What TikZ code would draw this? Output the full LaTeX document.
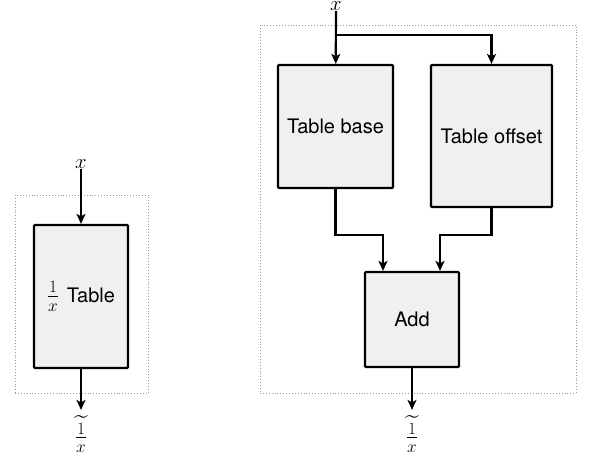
\documentclass[tikz,border=0pt]{standalone}
\usepackage{amsmath}
\usepackage{fontspec}
\setsansfont{TeX Gyre Heros}
\usetikzlibrary{arrows.meta}
\begin{document}
\begin{tikzpicture}[x=1pt,y=-1pt,
  font=\fontsize{20}{24}\selectfont\sffamily,
  blk/.style={draw, line width=2.2pt, fill=gray!12, rounded corners=1pt, inner sep=0pt},
  arr/.style={line width=2.2pt, -{Stealth[length=10pt,width=9pt,inset=2.5pt]}},
  grp/.style={draw=gray!80, dotted, line width=0.9pt, inner sep=0pt},
  lbl/.style={inner sep=0.5pt, font=\fontsize{22}{26}\selectfont},
  flbl/.style={inner sep=0.5pt, font=\fontsize{25}{28}\selectfont}]
\useasboundingbox (0,0) rectangle (589,455);
% left diagram
\node[grp, minimum width=133pt, minimum height=198pt] (g1) at (81.5,294) {};
\node[blk, minimum width=94pt, minimum height=143pt] (tab) at (81,296.5)
  {{\fontsize{26}{30}\selectfont$\frac{1}{x}$}\hspace{8pt}Table};
\node[lbl] (xin1) at (81,164) {$x$};
\node[flbl] (out1) at (81,434) {$\widetilde{\frac{1}{x}}$};
\draw[arr] (xin1) -- (tab);
\draw[arr, shorten >=5pt] (tab) -- (out1);
% right diagram
\node[grp, minimum width=316pt, minimum height=368pt] (g2) at (418,209) {};
\node[blk, minimum width=115pt, minimum height=123pt] (base) at (335.5,126.5) {Table base};
\node[blk, minimum width=121pt, minimum height=142pt] (off) at (491.5,136) {Table offset};
\node[blk, minimum width=94pt, minimum height=95pt] (add) at (412,319.5) {Add};
\node[lbl] (xin2) at (336,6) {$x$};
\node[flbl] (out2) at (412,434) {$\widetilde{\frac{1}{x}}$};
\coordinate (br) at (336,35);
\draw[arr] (xin2) -- (base);
\draw[arr] (br) -| (off.north);
\draw[arr] (base.south) -- ++(0,46) -| ([xshift=-29pt]add.north);
\draw[arr] (off.south) -- ++(0,27) -| ([xshift=28pt]add.north);
\draw[arr, shorten >=5pt] (add) -- (out2);
\end{tikzpicture}
\end{document}
